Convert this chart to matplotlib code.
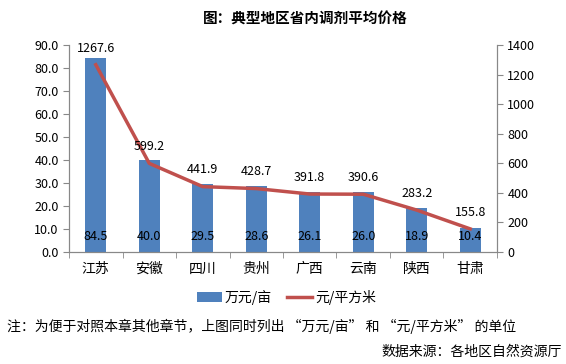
import matplotlib
matplotlib.use('Agg')
import matplotlib.pyplot as plt
import numpy as np

plt.rcParams['font.family'] = ['Noto Sans CJK SC', 'DejaVu Sans']

# data
regions = ['江苏', '安徽', '四川', '贵州', '广西', '云南', '陕西', '甘肃']
wan_per_mu = [84.5, 40.0, 29.5, 28.6, 26.1, 26.0, 18.9, 10.4]
yuan_per_m2 = [1267.6, 599.2, 441.9, 428.7, 391.8, 390.6, 283.2, 155.8]

blue = '#4F81BD'
red = '#C0504D'
grey = '#888888'

fig = plt.figure(figsize=(5.66, 3.64), dpi=100)
ax = fig.add_axes([0.122, 0.308, 0.756, 0.568])
x = np.arange(len(regions))

# bars on left axis
bars = ax.bar(x, wan_per_mu, width=0.39, color=blue, label='万元/亩', zorder=2)
for xi, v in zip(x, wan_per_mu):
    ax.text(xi, 6.5, '%.1f' % v, ha='center', va='center', fontsize=9)
ax.set_ylim(0, 90)
ax.set_yticks(np.arange(0, 91, 10))
ax.set_yticklabels(['%.1f' % t for t in np.arange(0, 91, 10)], fontsize=9)
ax.set_xlim(-0.5, len(regions) - 0.5)
ax.set_xticks(x)
ax.set_xticklabels(regions, fontsize=10)
ax.tick_params(axis='x', length=0, pad=7)
# tick marks between categories
ax.set_xticks(np.arange(-0.5, len(regions)), minor=True)
ax.tick_params(axis='x', which='minor', length=4, color=grey)
ax.tick_params(axis='y', length=4, color=grey)
ax.spines['top'].set_visible(False)
for s in ['left', 'bottom', 'right']:
    ax.spines[s].set_color(grey)

# line on right axis
ax2 = ax.twinx()
line, = ax2.plot(x, yuan_per_m2, color=red, lw=2.5, label='元/平方米', zorder=3)
for xi, v in zip(x, yuan_per_m2):
    ax2.annotate('%.1f' % v, (xi, v), xytext=(0, 12), textcoords='offset points',
                 ha='center', va='center', fontsize=9)
ax2.set_ylim(0, 1400)
ax2.set_yticks(np.arange(0, 1401, 200))
ax2.tick_params(axis='y', length=4, color=grey, labelsize=9)
ax2.spines['top'].set_visible(False)
for s in ['left', 'bottom', 'right']:
    ax2.spines[s].set_color(grey)

fig.text(0.54, 0.948, '图：典型地区省内调剂平均价格', ha='center', va='center',
         fontsize=10.5, fontweight='bold')

fig.legend(handles=[bars, line], loc='center', bbox_to_anchor=(0.506, 0.183),
           ncol=2, frameon=False, fontsize=10, handlelength=1.8,
           columnspacing=1.1, handletextpad=0.2)

fig.text(0.012, 0.103, '注：为便于对照本章其他章节，上图同时列出 “万元/亩” 和 “元/平方米” 的单位',
         ha='left', va='center', fontsize=10)
fig.text(0.992, 0.035, '数据来源：各地区自然资源厅', ha='right', va='center', fontsize=10)

fig.savefig('out.png', dpi=100)
